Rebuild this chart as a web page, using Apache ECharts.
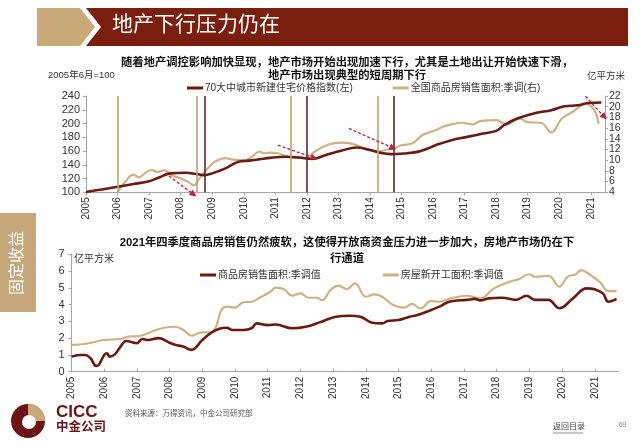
<!DOCTYPE html>
<html><head><meta charset="utf-8">
<script src="https://cdn.jsdelivr.net/npm/echarts@6/dist/echarts.min.js"></script>
<style>html,body{margin:0;padding:0;background:#fff}#c{width:640px;height:447px}</style>
</head><body><div id="c"></div>
<script>
// ---- Top chart data ----
const priceDates = ['2005-01','2005-07','2006-01','2006-07','2007-01','2007-05','2007-09','2008-03','2008-07','2008-10','2009-01','2009-06','2009-11','2010-03','2010-07','2010-11','2011-05','2011-10','2012-03','2012-08','2013-02','2013-08','2014-01','2014-05','2014-09','2015-02','2015-07','2015-11','2016-02','2016-08','2017-02','2017-08','2018-01','2018-04','2018-09','2019-04','2019-10','2020-03','2020-08','2020-12','2021-05'];
const priceIndex = [100.5,104,108,112,116,122,127.5,128.4,126.5,125,127.5,134.8,144.4,146,148,150.1,151.6,150.7,148.5,154,160.3,165.2,161.5,157.4,155.5,156.5,158.8,163.8,168.5,175.8,180.6,185.5,189.3,197.5,207.2,215.4,219.3,225,226.5,229.9,230.5];
const salesDates = ['2006-01','2006-04','2006-07','2006-09','2006-12','2007-02','2007-04','2007-07','2007-09','2008-01','2008-04','2008-06','2008-08','2008-11','2009-02','2009-06','2009-09','2010-01','2010-04','2010-07','2010-09','2010-11','2011-02','2011-04','2011-07','2011-10','2012-01','2012-04','2012-09','2013-02','2013-05','2013-09','2014-01','2014-04','2014-07','2014-10','2015-01','2015-05','2015-09','2016-02','2016-05','2016-08','2016-12','2017-04','2017-07','2018-01','2018-05','2018-10','2019-01','2019-06','2019-10','2020-02','2020-06','2020-11','2021-02','2021-04'];
const salesArea = [4.0,6.0,7.3,6.8,7.8,8.15,7.8,8.15,7.3,6.6,5.9,5.3,6.5,8.3,9.7,10.4,10.1,10.0,10.6,11.6,11.3,11.4,11.3,10.95,10.5,10.45,10.5,11.6,12.9,13.3,13.2,12.6,11.9,11.6,11.9,12.2,12.8,13.1,14.7,15.6,16.3,16.7,17.0,16.7,17.3,17.5,16.7,17.8,17.1,17.0,15.2,17.8,19.0,20.5,19.6,16.8];
const cycleLinesTan = ['2006-01','2008-07','2011-07','2014-04'];
const cycleLinesBrown = ['2008-10','2012-01','2014-10'];
// arrows: [startDate, startValue(left axis), endDate, endValue]
const arrows = [['2007-07',128,'2008-07',94],['2011-02',168.6,'2012-05',148.3],['2013-05',192.8,'2014-11',162.3],['2020-11',239.6,'2021-07',205.8]];
const leftTicks = [100,240,20];
const rightTicks = [4,22,2];

// ---- Bottom chart data ----
const soldDates = ['2005-01','2005-04','2005-06','2005-08','2005-10','2005-11','2006-01','2006-02','2006-03','2006-05','2006-07','2006-09','2007-01','2007-03','2007-05','2007-09','2008-01','2008-03','2008-06','2008-09','2009-01','2009-04','2009-07','2009-10','2009-12','2010-04','2010-07','2010-09','2011-01','2011-04','2011-10','2012-03','2012-08','2013-02','2013-07','2013-11','2014-03','2014-07','2014-09','2015-01','2015-05','2015-08','2016-01','2016-04','2016-07','2016-09','2017-02','2017-05','2017-07','2017-10','2018-03','2018-08','2018-12','2019-03','2019-08','2019-12','2020-05','2020-10','2021-01','2021-04','2021-06','2021-09'];
const soldArea = [0.9,1.0,1.0,0.8,0.35,0.4,1.0,1.1,0.9,1.05,1.5,1.83,1.7,1.95,1.89,2.0,1.73,1.6,1.5,1.3,1.89,2.29,2.55,2.62,2.49,2.49,2.59,2.88,2.78,2.81,2.59,2.68,2.94,3.28,3.34,3.28,2.94,2.88,3.02,3.08,3.28,3.38,3.68,3.88,4.14,4.22,4.28,4.34,4.25,4.37,4.41,4.28,4.53,4.28,4.28,3.78,4.37,4.97,4.91,4.67,4.17,4.34];
const startDates = ['2005-01','2005-04','2005-08','2006-01','2006-07','2006-10','2007-02','2007-07','2007-11','2008-03','2008-06','2008-09','2009-01','2009-04','2009-06','2009-08','2009-10','2010-01','2010-04','2010-07','2010-10','2011-02','2011-04','2011-07','2011-10','2012-01','2012-04','2012-07','2012-09','2012-12','2013-03','2013-06','2013-09','2014-01','2014-04','2014-07','2014-11','2015-03','2015-06','2015-09','2016-01','2016-04','2016-08','2017-02','2017-07','2017-12','2018-06','2018-09','2019-01','2019-03','2019-08','2019-12','2020-03','2020-06','2020-08','2020-11','2021-03','2021-06','2021-09'];
const startArea = [1.6,1.62,1.72,1.89,1.95,2.09,2.13,2.43,2.62,2.68,2.49,2.15,2.35,2.35,2.68,3.68,3.88,3.82,4.14,4.17,4.41,4.77,5.01,4.91,4.53,4.67,4.41,4.41,4.27,4.87,5.13,4.93,5.27,4.47,4.61,4.47,3.98,3.82,4.04,3.78,4.22,4.17,4.37,4.53,4.37,4.97,5.37,5.51,5.81,5.66,5.71,5.07,5.66,5.81,6.06,5.81,5.33,4.81,4.81];

const BROWN = '#6A1A10', TAN = '#CDB287', ARROW = '#B8213A';
const FONT = '"Liberation Sans","Noto Sans CJK SC",sans-serif';
function yr(d){const [y,m]=d.split('-').map(Number);return y+(m-1)/12;}
function pairs(ds,vs){return ds.map((d,i)=>[yr(d),vs[i]]);}

const chart = echarts.init(document.getElementById('c'), null, {renderer:'canvas'});
const axisLbl = {color:'#333', fontSize:11, fontFamily:FONT, showMinLabel:true, showMaxLabel:true};
const yearLbl = {color:'#333', fontSize:10, fontFamily:FONT, rotate:90, margin:5, showMaxLabel:false,
  formatter: v => Number.isInteger(v) ? String(v) : ''};
const gray = {lineStyle:{color:'#A6A6A6', width:1}};

const vlines = cycleLinesTan.map(d=>({xAxis:yr(d), lineStyle:{color:'#BFA470', width:1.6, type:'solid'}}))
  .concat(cycleLinesBrown.map(d=>({xAxis:yr(d), lineStyle:{color:'#5E2A2A', width:1.6, type:'solid'}})));

const baseGraphic = [
    // header
    {type:'polygon', shape:{points:[[37,8],[80,8],[95,27],[80,46],[37,46]]}, style:{fill:'#C9A97A'}},
    {type:'polygon', shape:{points:[[86,8],[628,8],[628,46],[86,46],[101,27]]}, style:{fill:'#7A1F0D'}},
    {type:'text', left:112, top:15, style:{text:'地产下行压力仍在', fill:'#fff', fontSize:21, fontFamily:FONT}},
    // side tab
    {type:'rect', shape:{x:0,y:213,width:36,height:99}, style:{fill:'#C6A779'}},
    {type:'text', x:18, y:263, rotation:Math.PI/2, style:{text:'固定收益', fill:'#fff', fontSize:16, fontFamily:FONT, align:'center', verticalAlign:'middle'}},
    // axis unit labels
    {type:'text', left:48, top:71, style:{text:'2005年6月=100', fill:'#333', fontSize:9.5, fontFamily:FONT}},
    {type:'text', left:587, top:72, style:{text:'亿平方米', fill:'#333', fontSize:9.5, fontFamily:FONT}},
    {type:'text', left:74, top:254, style:{text:'亿平方米', fill:'#333', fontSize:10, fontFamily:FONT}},
    // footer
    {type:'circle', shape:{cx:28,cy:421,r:17}, style:{fill:'#6A1418'}},
    {type:'sector', shape:{cx:28,cy:421,r:17,r0:0,startAngle:-Math.PI/2,endAngle:0}, style:{fill:'#C9A97A'}},
    {type:'circle', shape:{cx:29,cy:422,r:7}, style:{fill:'#fff'}},
    {type:'text', left:56, top:404, style:{text:'CICC', fill:'#6A1418', fontSize:17, fontWeight:'bold', fontFamily:FONT}},
    {type:'text', left:56, top:421, style:{text:'中金公司', fill:'#6A1418', fontSize:12.5, fontWeight:'bold', fontFamily:FONT}},
    {type:'text', left:125, top:410, style:{text:'资料来源：万得资讯，中金公司研究部', fill:'#555', fontSize:7.5, fontFamily:FONT}},
    {type:'text', left:553, top:423, style:{text:'返回目录', fill:'#444', fontSize:8, fontFamily:FONT}},
    {type:'line', shape:{x1:553,y1:433,x2:583,y2:433}, style:{stroke:'#444', lineWidth:0.6}},
    {type:'text', left:619, top:422, style:{text:'69', fill:'#777', fontSize:6.5, fontFamily:FONT}}
];

const option = {
  animation:false,
  textStyle:{fontFamily:FONT},
  title:[
    {text:'随着地产调控影响加快显现，地产市场开始出现加速下行，尤其是土地出让开始快速下滑，\n地产市场出现典型的短周期下行',
     left:342, top:51, textAlign:'center',
     textStyle:{fontSize:11.3, fontWeight:'bold', color:'#111', lineHeight:13.5, fontFamily:FONT}},
    {text:'2021年四季度商品房销售仍然疲软，这使得开放商资金压力进一步加大，房地产市场仍在下\n行通道',
     left:342, top:230, textAlign:'center',
     textStyle:{fontSize:11.3, fontWeight:'bold', color:'#111', lineHeight:16, fontFamily:FONT}}
  ],
  legend:[
    {data:['70大中城市新建住宅价格指数(左)','全国商品房销售面积:季调(右)'], left:182, top:78, itemGap:40,
     itemWidth:16, itemHeight:3, icon:'rect', textStyle:{fontSize:10, color:'#333', padding:[0,0,0,-3]}},
    {data:['商品房销售面积:季调值','房屋新开工面积:季调值'], left:195, top:265, itemGap:62,
     itemWidth:16, itemHeight:3, icon:'rect', textStyle:{fontSize:10, color:'#333', padding:[0,0,0,-3]}}
  ],
  grid:[
    {left:86, right:35, top:96, height:96.3},
    {left:71.5, right:21.7, top:254.3, height:117.4}
  ],
  xAxis:[
    {type:'value', gridIndex:0, min:2005, max:2021.45, interval:1, splitLine:{show:false},
     axisLine:gray, axisTick:{length:3, lineStyle:{color:'#A6A6A6'}}, axisLabel:yearLbl},
    {type:'value', gridIndex:1, min:2005, max:2021.72, interval:1, splitLine:{show:false},
     axisLine:gray, axisTick:{inside:true, length:3, lineStyle:{color:'#A6A6A6'}}, axisLabel:yearLbl}
  ],
  yAxis:[
    {type:'value', gridIndex:0, min:leftTicks[0], max:leftTicks[1], interval:leftTicks[2], splitLine:{show:false},
     axisLine:{show:true, lineStyle:{color:'#A6A6A6'}}, axisTick:{show:true, length:3, lineStyle:{color:'#A6A6A6'}}, axisLabel:Object.assign({margin:6},axisLbl)},
    {type:'value', gridIndex:0, position:'right', min:rightTicks[0], max:rightTicks[1], interval:rightTicks[2], splitLine:{show:false},
     axisLine:{show:true, lineStyle:{color:'#A6A6A6'}}, axisTick:{show:true, length:3, lineStyle:{color:'#A6A6A6'}},
     axisLabel:Object.assign({}, axisLbl, {margin:4, fontSize:10.5, lineHeight:9, padding:0})},
    {type:'value', gridIndex:1, min:0, max:7, interval:1, splitLine:{show:false},
     axisLine:{show:true, lineStyle:{color:'#A6A6A6'}}, axisTick:{show:true, length:3, lineStyle:{color:'#A6A6A6'}}, axisLabel:Object.assign({margin:7},axisLbl)}
  ],
  series:[
    {name:'全国商品房销售面积:季调(右)', type:'line', xAxisIndex:0, yAxisIndex:1, data:pairs(salesDates,salesArea),
     smooth:0.4, showSymbol:false, lineStyle:{color:TAN, width:2.2}, itemStyle:{color:TAN}, z:3,
     markLine:{silent:true, symbol:'none', label:{show:false}, data:vlines}},
    {name:'70大中城市新建住宅价格指数(左)', type:'line', xAxisIndex:0, yAxisIndex:0, data:pairs(priceDates,priceIndex),
     smooth:0.4, showSymbol:false, lineStyle:{color:BROWN, width:2.6}, itemStyle:{color:BROWN}, z:4},
    {name:'房屋新开工面积:季调值', type:'line', xAxisIndex:1, yAxisIndex:2, data:pairs(startDates,startArea),
     smooth:0.4, showSymbol:false, lineStyle:{color:TAN, width:2.2}, itemStyle:{color:TAN}},
    {name:'商品房销售面积:季调值', type:'line', xAxisIndex:1, yAxisIndex:2, data:pairs(soldDates,soldArea),
     smooth:0.4, showSymbol:false, lineStyle:{color:BROWN, width:2.6}, itemStyle:{color:BROWN}}
  ],
  graphic: baseGraphic
};
chart.setOption(option);

// dashed arrows, positioned from data coordinates through the axes
const arrowGraphic = [];
arrows.forEach(a=>{
  const p0 = chart.convertToPixel({xAxisIndex:0, yAxisIndex:0}, [yr(a[0]), a[1]]);
  const p1 = chart.convertToPixel({xAxisIndex:0, yAxisIndex:0}, [yr(a[2]), a[3]]);
  const dx = p1[0]-p0[0], dy = p1[1]-p0[1], L = Math.hypot(dx,dy);
  const ux = dx/L, uy = dy/L, hl = 7, hw = 3.3;
  const bx = p1[0]-ux*hl, by = p1[1]-uy*hl;
  arrowGraphic.push({type:'line', z:100, shape:{x1:p0[0],y1:p0[1],x2:bx,y2:by},
    style:{stroke:ARROW, lineWidth:1.3, lineDash:[3,2]}});
  arrowGraphic.push({type:'polygon', z:100, shape:{points:[[p1[0],p1[1]],[bx-uy*hw,by+ux*hw],[bx+uy*hw,by-ux*hw]]},
    style:{fill:ARROW}});
});
chart.setOption({graphic: baseGraphic.concat(arrowGraphic)});
</script></body></html>
